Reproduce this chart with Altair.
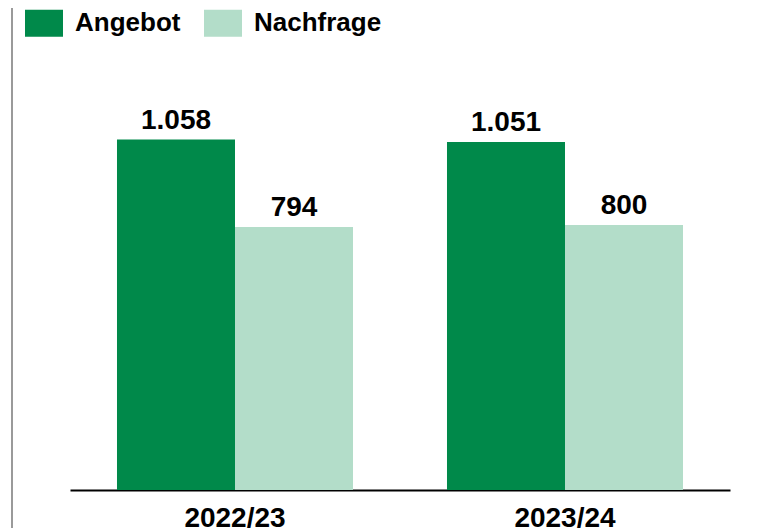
import altair as alt
import pandas as pd

years = ["2022/23", "2023/24"]
series = ["Angebot", "Nachfrage"]
angebot = [1058, 1051]
nachfrage = [794, 800]
colors = ["#00894A", "#B3DDC9"]

rows = []
for i, y in enumerate(years):
    for s, vals in zip(series, [angebot, nachfrage]):
        v = vals[i]
        rows.append({"jahr": y, "serie": s, "wert": v,
                     "label": f"{v:,}".replace(",", ".")})
df = pd.DataFrame(rows)

FONT = "Liberation Sans"

base = alt.Chart(df).encode(
    x=alt.X("jahr:N", sort=years, title=None,
            scale=alt.Scale(paddingInner=0.2848, paddingOuter=0.1424),
            axis=alt.Axis(labelAngle=0, ticks=False, domainColor="black",
                          domainWidth=2, labelFont=FONT, labelFontWeight="bold",
                          labelFontSize=28, labelColor="black", labelPadding=14,
                          grid=False)),
    xOffset=alt.XOffset("serie:N", sort=series,
                        scale=alt.Scale(paddingInner=0, paddingOuter=0)),
    y=alt.Y("wert:Q", scale=alt.Scale(domain=[0, 1238]), axis=None),
)

bars = base.mark_bar(stroke=None).encode(
    color=alt.Color("serie:N", sort=series,
                    scale=alt.Scale(domain=series, range=colors),
                    legend=alt.Legend(orient="none", legendX=-45, legendY=-76,
                                      direction="horizontal", title=None,
                                      symbolType="M-1,-0.71L1,-0.71L1,0.71L-1,0.71Z",
                                      symbolSize=1444, symbolStrokeWidth=0,
                                      symbolOpacity=1,
                                      labelFont=FONT, labelFontWeight="bold",
                                      labelFontSize=26, labelColor="black",
                                      labelOffset=12, columnPadding=23))
)

text = base.mark_text(font=FONT, fontWeight="bold", fontSize=28, color="black",
                      baseline="alphabetic", dy=-11).encode(text="label:N")

frame = alt.Chart(alt.Data(values=[{"a": 1}])).mark_rule(
    color="#9A9A9A", strokeWidth=2).encode(
    x=alt.value(-58), y=alt.value(-72), y2=alt.value(448))

chart = alt.layer(bars, text, frame).properties(
    width=660, height=410,
    autosize=alt.AutoSizeParams(type="none"),
    padding={"left": 62, "top": 72, "right": 31, "bottom": 38},
).configure_view(stroke=None)

chart.save("out.html", embed_options={"renderer": "svg", "actions": False})
